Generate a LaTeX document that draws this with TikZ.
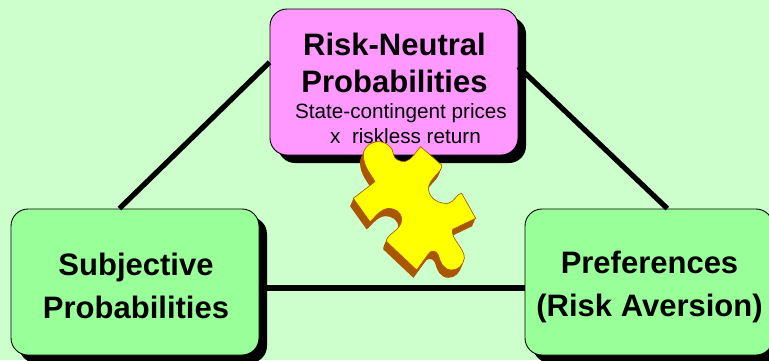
\documentclass[tikz,border=0pt]{standalone}
\usepackage{fontspec}
\setmainfont{Liberation Sans}
\definecolor{bgGreen}{RGB}{204,255,204}
\definecolor{boxGreen}{RGB}{153,255,153}
\definecolor{boxPink}{RGB}{255,153,255}
\definecolor{pieceBrown}{RGB}{170,85,0}
\definecolor{pieceYellow}{RGB}{255,255,0}
\tikzset{
  riskbox/.style={draw=black,line width=0.9pt,rounded corners=17pt,minimum width=248pt,minimum height=146pt,inner sep=0pt},
  boxshadow/.style={fill=black,rounded corners=17pt,minimum width=248pt,minimum height=146pt,inner sep=0pt},
  pinktitle/.style={align=center,font=\fontsize{31}{37}\selectfont\bfseries},
  greentitle/.style={align=center,font=\fontsize{31}{43}\selectfont\bfseries},
  link/.style={line width=5.2pt}
}
% the puzzle piece, in pixels of a 480 wide crop
\newcommand{\piecepath}{(70,205) -- (135,155)
  .. controls (125,135) and (100,110) .. (100,75)
  .. controls (100,50) and (125,35) .. (145,35)
  .. controls (170,35) and (190,55) .. (190,72)
  .. controls (192,88) and (208,95) .. (225,95)
  .. controls (245,90) and (258,65) .. (272,50)
  -- (335,105)
  .. controls (340,125) and (295,145) .. (295,178)
  .. controls (300,210) and (330,222) .. (355,220)
  .. controls (375,215) and (380,190) .. (395,190)
  -- (437,265) -- (368,298)
  .. controls (360,325) and (405,355) .. (403,385)
  .. controls (400,405) and (385,420) .. (365,420)
  .. controls (340,420) and (330,395) .. (325,375)
  .. controls (318,358) and (300,362) .. (295,372)
  -- (260,420) -- (170,335)
  .. controls (165,315) and (215,300) .. (215,270)
  .. controls (215,245) and (195,235) .. (175,235)
  .. controls (150,238) and (135,262) .. (120,275)
  -- cycle}
\begin{document}
\begin{tikzpicture}[x=1pt,y=-1pt]
  \useasboundingbox (0,0) rectangle (769,360);
  \fill[bgGreen] (0,0) rectangle (769,360);
  \clip (0,0) rectangle (769,360);
  % shadows
  \node[boxshadow] (neutralshadow) at (402,90) {};
  \node[boxshadow] (subjshadow) at (143,290) {};
  \node[boxshadow] (prefshadow) at (657,290) {};
  % boxes
  \node[riskbox,fill=boxPink] (neutral) at (394,82) {};
  \node[riskbox,fill=boxGreen] (subj) at (135,282) {};
  \node[riskbox,fill=boxGreen] (pref) at (649,282) {};
  % connectors
  \draw[link] (neutral.171) -- (subj.102);
  \draw[link] (neutral.7) -- (pref.76);
  \draw[link] (subj.east |- 0,288) -- (pref.west |- 0,288);
  % texts
  \node[pinktitle] (neutraltitle) at (394.5,62.5) {Risk-Neutral\\Probabilities};
  \node[font=\fontsize{20.7}{25}\selectfont,align=center] (prices) at (401,124) {State-contingent prices\\\hspace*{9pt}x\ \ riskless return};
  \node[greentitle] (subjtitle) at (136,285.5) {Subjective\\Probabilities};
  \node[greentitle] (preftitle) at (649.5,286.5) {Preferences\\(Risk Aversion)};
  % puzzle piece
  \begin{scope}[shift={(330,130)},x=0.3333pt,y=-0.3333pt]
    \foreach \s in {0,0.1,...,1}
      \fill[pieceBrown,shift={(-11*\s,26*\s)}] \piecepath;
    \draw[pieceBrown,fill=pieceYellow,line width=0.6pt] \piecepath;
  \end{scope}
\end{tikzpicture}
\end{document}
